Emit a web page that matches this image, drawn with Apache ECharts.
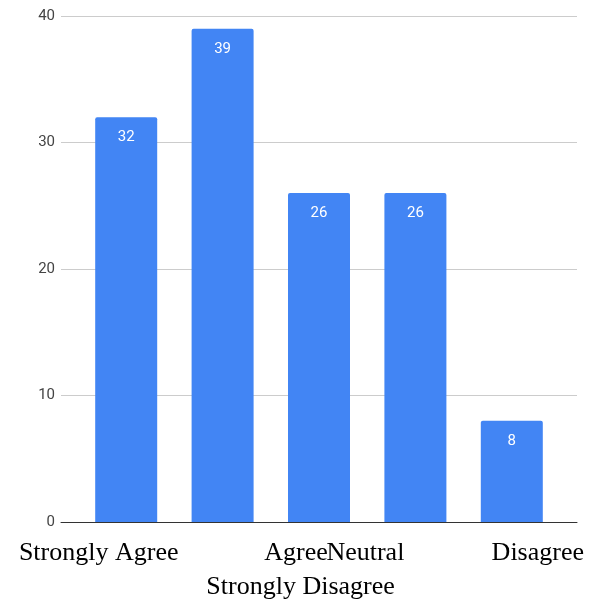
<!DOCTYPE html>
<html>
<head>
<meta charset="utf-8">
<script src="https://cdn.jsdelivr.net/npm/echarts@6/dist/echarts.min.js"></script>
<style>
  html, body { margin: 0; padding: 0; background: #fff; }
  #chart { width: 598px; height: 600px; }
</style>
</head>
<body>
<div id="chart"></div>
<script>
// Survey responses per answer
const categories = ['Strongly Agree', 'Strongly Disagree', 'Agree', 'Neutral', 'Disagree'];
const responses = [32, 39, 26, 26, 8];
const yTicks = [0, 10, 20, 30, 40];

// Per-label nudges for the category captions (horizontal shift, extra top space)
const labelShift = [-27.5, 78, -23, -50, 26];
const labelDrop = [0, 68, 0, 0, 0];

const rich = {};
labelShift.forEach((d, i) => {
  rich['l' + i] = {
    fontFamily: '"Liberation Serif", "Times New Roman", serif',
    fontSize: 26,
    lineHeight: 30,
    color: '#000',
    padding: [labelDrop[i], d < 0 ? -2 * d : 0, 0, d > 0 ? 2 * d : 0]
  };
});

const chart = echarts.init(document.getElementById('chart'), null, { renderer: 'canvas' });
const yMax = yTicks[yTicks.length - 1];
const yStep = yTicks[1] - yTicks[0];

chart.setOption({
  animation: false,
  backgroundColor: '#fff',
  grid: [
    { left: 61, right: 21, top: 16, bottom: 78 },
    { left: 78, right: 38, top: 16, bottom: 78 }
  ],
  xAxis: [
    {
      gridIndex: 0, type: 'value', min: 0, max: 1,
      axisLine: { show: true, lineStyle: { color: '#333', width: 1 } },
      axisTick: { show: false }, axisLabel: { show: false }, splitLine: { show: false }
    },
    {
      gridIndex: 1, type: 'category', data: categories,
      axisLine: { show: false }, axisTick: { show: false },
      axisLabel: {
        interval: 0,
        margin: 16,
        formatter: (v, i) => '{l' + i + '|' + v + '}',
        rich: rich
      }
    }
  ],
  yAxis: [
    {
      gridIndex: 0, type: 'value', min: 0, max: yMax, interval: yStep,
      axisLine: { show: false }, axisTick: { show: false },
      axisLabel: { color: '#444', fontSize: 15, fontFamily: 'Roboto, sans-serif', margin: 6 },
      splitLine: { lineStyle: { color: '#cccccc', width: 1 } }
    },
    {
      gridIndex: 1, type: 'value', min: 0, max: yMax, interval: yStep, show: false,
      splitLine: { show: false }
    }
  ],
  series: [
    {
      type: 'bar',
      xAxisIndex: 1, yAxisIndex: 1,
      data: responses,
      barWidth: 62,
      itemStyle: { color: '#4285f4', borderRadius: [2, 2, 0, 0] },
      label: {
        show: true, position: 'insideTop', distance: 13,
        color: '#fff', fontSize: 15, fontFamily: 'Roboto, sans-serif'
      }
    }
  ]
});
</script>
</body>
</html>
